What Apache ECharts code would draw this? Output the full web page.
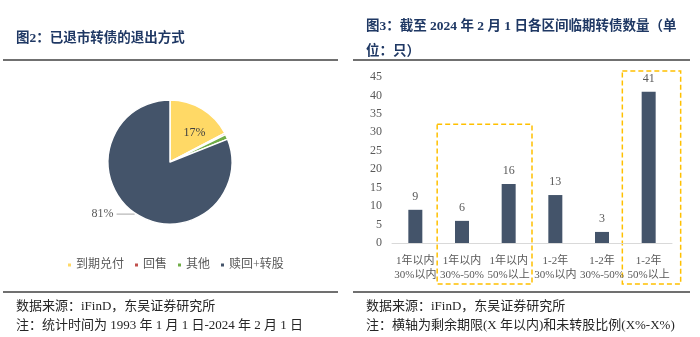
<!DOCTYPE html>
<html><head><meta charset="utf-8">
<script src="https://cdn.jsdelivr.net/npm/echarts@6/dist/echarts.min.js"></script>
<style>html,body{margin:0;padding:0;background:#fff}#c{width:700px;height:337px}</style>
</head><body><div id="c"></div>
<script>
// ---- data ----
const pieNames = ['到期兑付', '回售', '其他', '赎回+转股'];
const pieValues = [17.3, 0.4, 1.3, 81.0];
const pieColors = ['#FFD966', '#C0504D', '#70AD47', '#44546A'];
const barCategories = ['1年以内\n30%以内', '1年以内\n30%-50%', '1年以内\n50%以上', '1-2年\n30%以内', '1-2年\n30%-50%', '1-2年\n50%以上'];
const barValues = [9, 6, 16, 13, 3, 41];
const yTicks = { min: 0, max: 45, interval: 5 };
// highlighted groups: [first category index, last category index, top value]
const boxes = [[1, 2, 32.2], [5, 5, 46.6]];

const serif = '"Liberation Serif", "Times New Roman", "Noto Sans CJK SC", serif';
const cjk = '"Liberation Serif", "Noto Sans CJK SC", sans-serif';
const chart = echarts.init(document.getElementById('c'), null, { renderer: 'canvas' });

const titleStyle = { fontSize: 13.5, fontWeight: 'bold', color: '#1F3864', fontFamily: cjk };
const srcStyle = { fontSize: 13, fontWeight: 'normal', color: '#262626', fontFamily: cjk };

chart.setOption({
  animation: false,
  backgroundColor: '#fff',
  title: [
    { text: '图2：已退市转债的退出方式', left: 11, top: 27, textStyle: titleStyle },
    { text: '图3：截至 2024 年 2 月 1 日各区间临期转债数量（单\n位：只）', left: 361, top: 9, textStyle: Object.assign({ lineHeight: 25 }, titleStyle) },
    { text: '数据来源：iFinD，东吴证券研究所', left: 11, top: 295, textStyle: srcStyle },
    { text: '注：统计时间为 1993 年 1 月 1 日-2024 年 2 月 1 日', left: 11, top: 314, textStyle: srcStyle },
    { text: '数据来源：iFinD，东吴证券研究所', left: 361, top: 295, textStyle: srcStyle },
    { text: '注：横轴为剩余期限(X 年以内)和未转股比例(X%-X%)', left: 361, top: 314, textStyle: srcStyle }
  ],
  legend: {
    data: pieNames,
    left: 61, top: 254,
    icon: 'rect', itemWidth: 5, itemHeight: 5, itemGap: 9,
    textStyle: { fontSize: 12, color: '#595959', fontFamily: cjk, padding: [0, 0, 0, -1] }
  },
  grid: { left: 392, right: 28, top: 77, bottom: 94 },
  xAxis: {
    type: 'category', data: barCategories,
    axisLine: { lineStyle: { color: '#D9D9D9', width: 1 } },
    axisTick: { show: false },
    axisLabel: { interval: 0, margin: 11, fontSize: 11, lineHeight: 14, color: '#595959', fontFamily: serif }
  },
  yAxis: {
    type: 'value', min: yTicks.min, max: yTicks.max, interval: yTicks.interval,
    splitLine: { show: false }, axisLine: { show: false }, axisTick: { show: false },
    axisLabel: { fontSize: 12, color: '#595959', fontFamily: serif, margin: 10 }
  },
  series: [
    {
      type: 'pie', center: [170, 162], radius: 62, startAngle: 90, clockwise: true,
      itemStyle: { borderColor: '#fff', borderWidth: 1.5 },
      label: { show: false },
      labelLine: { show: false },
      data: pieNames.map((n, i) => {
        const d = { name: n, value: pieValues[i], itemStyle: { color: pieColors[i] } };
        if (i === 0) d.label = { show: true, position: 'inside', formatter: '17%', fontSize: 12, color: '#404040', fontFamily: serif, padding: [0, 0, 48, 14] };
        if (i === 3) {
          d.label = { show: true, position: 'outside', formatter: '81%', fontSize: 12, color: '#595959', fontFamily: serif, distanceToLabelLine: 3 };
          d.labelLine = { show: true, length: 1, length2: 18, lineStyle: { color: '#A6A6A6', width: 1 } };
        }
        return d;
      })
    },
    {
      type: 'bar', data: barValues, barWidth: 14,
      itemStyle: { color: '#44546A' },
      label: { show: true, position: 'top', distance: 7, fontSize: 12, color: '#595959', fontFamily: serif }
    }
  ]
});

function px(cat, val) { return chart.convertToPixel({ xAxisIndex: 0, yAxisIndex: 0 }, [cat, val]); }
const band = px(1, 0)[0] - px(0, 0)[0];
const g = [];
// separator rules
[[3, 338], [353, 690]].forEach(([x1, x2]) => {
  g.push({ type: 'line', shape: { x1, y1: 60, x2, y2: 60 }, style: { stroke: '#404040', lineWidth: 1.5 } });
  g.push({ type: 'line', shape: { x1, y1: 292, x2, y2: 292 }, style: { stroke: '#404040', lineWidth: 1.5 } });
});
boxes.forEach(([a, b, top], k) => {
  const l = px(a, 0)[0] - band / 2 - (k === 0 ? 1.5 : 3);
  const r = px(b, 0)[0] + (k === 0 ? band / 2 : 32);
  const t = px(a, top)[1];
  g.push({ type: 'rect', shape: { x: l, y: t, width: r - l, height: 284 - t },
    style: { fill: 'none', stroke: '#FFC000', lineWidth: 1.5, lineDash: [5, 3] } });
});
chart.setOption({ graphic: g });
</script></body></html>
